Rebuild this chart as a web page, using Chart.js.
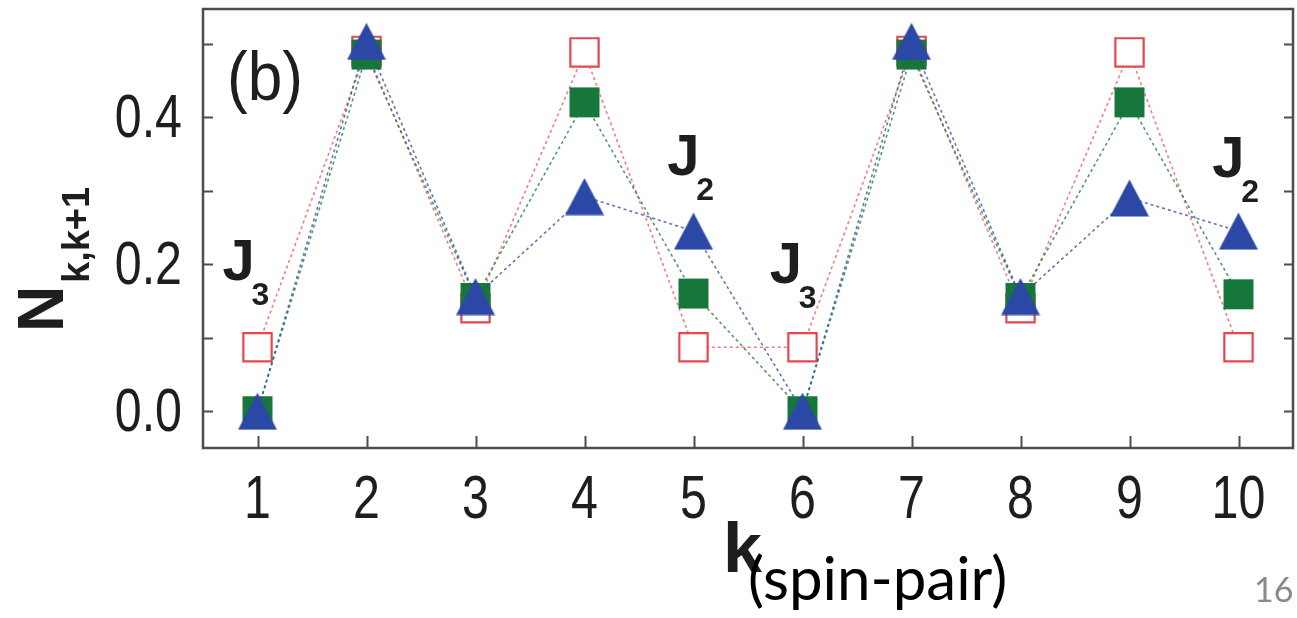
<!DOCTYPE html>
<html>
<head>
<meta charset="utf-8">
<script src="https://cdn.jsdelivr.net/npm/chart.js@4.4.1/dist/chart.umd.min.js"></script>
<style>
  html, body { margin: 0; padding: 0; background: #fff; }
  #wrap { width: 1297px; height: 618px; position: relative; }
</style>
</head>
<body>
<div id="wrap"><canvas id="chart"></canvas></div>
<script>
// spin-pair index k and the pair values N(k,k+1) for the three cases
const spinPairs = [1, 2, 3, 4, 5, 6, 7, 8, 9, 10];
const openSquares = [0.087, 0.49, 0.14, 0.488, 0.087, 0.087, 0.49, 0.14, 0.488, 0.087];
const filledSquares = [0.0, 0.485, 0.154, 0.42, 0.16, 0.0, 0.485, 0.154, 0.42, 0.159];
const triangles = [0.0, 0.503, 0.156, 0.292, 0.245, 0.0, 0.503, 0.156, 0.29, 0.245];

const yTicks = [0.0, 0.1, 0.2, 0.3, 0.4, 0.5];
const yLabels = [0.0, 0.2, 0.4];

const RED = '#e5474f';
const GREEN = '#17773a';
const BLUE = '#2b48a6';
const AXIS = '#4d4d4d';
const INK = '#1e1e1e';
const TICK_FONT = '62px "Liberation Sans", Arial, sans-serif';
const SQUEEZE = 0.78;

// Origin-style filled triangle, centred on its bounding box
function makeTriangle(w, h, color) {
  const c = document.createElement('canvas');
  c.width = w; c.height = h;
  const g = c.getContext('2d');
  g.fillStyle = color;
  g.beginPath();
  g.moveTo(w / 2, 0.5);
  g.lineTo(w - 0.5, h - 0.5);
  g.lineTo(0.5, h - 0.5);
  g.closePath();
  g.fill();
  return c;
}
const triMarker = makeTriangle(40, 38, BLUE);

const toPoints = vals => spinPairs.map((k, i) => ({ x: k, y: vals[i] }));

// narrow text: draw horizontally squeezed around (x, y)
function narrowText(ctx, text, x, y, align) {
  ctx.save();
  ctx.translate(x, y);
  ctx.scale(SQUEEZE, 1);
  ctx.textAlign = align;
  ctx.fillText(text, 0, 0);
  ctx.restore();
}

// frame with inward ticks on left, right and bottom, plus tick labels
const framePlugin = {
  id: 'frame',
  afterDatasetsDraw(chart) {
    const { ctx, chartArea: a, scales: { x, y } } = chart;
    ctx.save();
    ctx.strokeStyle = AXIS;
    ctx.lineWidth = 2.5;
    ctx.strokeRect(a.left, a.top, a.right - a.left, a.bottom - a.top);
    ctx.lineWidth = 2;
    ctx.beginPath();
    yTicks.forEach(v => {
      const py = Math.round(y.getPixelForValue(v)) + 0.5;
      ctx.moveTo(a.left, py); ctx.lineTo(a.left + 10, py);
      ctx.moveTo(a.right, py); ctx.lineTo(a.right - 9, py);
    });
    x.ticks.forEach(t => {
      const px = Math.round(x.getPixelForValue(t.value)) + 0.5;
      ctx.moveTo(px, a.bottom); ctx.lineTo(px, a.bottom - 12);
    });
    ctx.stroke();

    ctx.fillStyle = INK;
    ctx.font = TICK_FONT;
    ctx.textBaseline = 'alphabetic';
    y.ticks.forEach(t => {
      narrowText(ctx, t.value.toFixed(1), a.left - 21, y.getPixelForValue(t.value) + 20, 'right');
    });
    x.ticks.forEach(t => {
      narrowText(ctx, String(t.value), x.getPixelForValue(t.value), a.bottom + 70, 'center');
    });
    ctx.restore();
  }
};

// panel letter, J labels, axis titles and slide number
const textPlugin = {
  id: 'texts',
  afterDraw(chart) {
    const { ctx, chartArea: a, scales: { x, y } } = chart;
    ctx.save();
    ctx.fillStyle = INK;
    ctx.textBaseline = 'alphabetic';
    ctx.textAlign = 'left';

    ctx.font = '68px "Liberation Sans", Arial, sans-serif';
    ctx.fillText('(b)', a.left + 24, a.top + 91, 76);

    const jLabels = [
      { k: 1, dx: -0.32, y: 0.179, sub: '3' },
      { k: 6, dx: -0.30, y: 0.174, sub: '3' },
      { k: 5, dx: -0.24, y: 0.321, sub: '2' },
      { k: 10, dx: -0.24, y: 0.318, sub: '2' }
    ];
    jLabels.forEach(l => {
      const px = x.getPixelForValue(l.k + l.dx);
      const py = y.getPixelForValue(l.y);
      ctx.font = 'bold 58px "Liberation Sans", Arial, sans-serif';
      ctx.fillText('J', px, py);
      ctx.font = 'bold 32px "Liberation Sans", Arial, sans-serif';
      ctx.fillText(l.sub, px + 29, py + 25);
    });

    // y title: N with subscript k,k+1, rotated
    ctx.save();
    ctx.translate(63, 332);
    ctx.rotate(-Math.PI / 2);
    ctx.font = 'bold 64px "Liberation Sans", Arial, sans-serif';
    ctx.fillText('N', 0, 0);
    ctx.restore();
    ctx.save();
    ctx.translate(89, 283);
    ctx.rotate(-Math.PI / 2);
    ctx.font = 'bold 38px "Liberation Sans", Arial, sans-serif';
    ctx.fillText('k,k+1', 0, 0, 98);
    ctx.restore();

    // x title
    ctx.font = 'bold 70px "Liberation Sans", Arial, sans-serif';
    ctx.fillText('k', 723, 572);
    ctx.fillStyle = '#000';
    ctx.font = '60px Lato, "Open Sans", sans-serif';
    ctx.fillText('(spin-pair)', 748, 600, 266);

    ctx.fillStyle = '#8a8a8a';
    ctx.font = '34px Lato, "Open Sans", sans-serif';
    ctx.fillText('16', 1254, 602);
    ctx.restore();
  }
};

const lineStyle = color => ({
  borderColor: color,
  borderWidth: 1.6,
  borderDash: [3, 3],
  tension: 0,
  fill: false
});

// pin the plot box: fixed axis sizes, no automatic label padding
const noPad = s => { s.paddingTop = 0; s.paddingBottom = 0; s.paddingLeft = 0; s.paddingRight = 0; };

new Chart(document.getElementById('chart'), {
  type: 'line',
  data: {
    datasets: [
      Object.assign({
        label: 'triangles',
        data: toPoints(triangles),
        pointStyle: triMarker
      }, lineStyle('rgba(43,72,166,0.75)')),
      Object.assign({
        label: 'filled squares',
        data: toPoints(filledSquares),
        pointStyle: 'rect',
        pointRadius: 21.2,
        pointBackgroundColor: GREEN,
        pointBorderColor: GREEN,
        pointBorderWidth: 0
      }, lineStyle('rgba(23,119,58,0.75)')),
      Object.assign({
        label: 'open squares',
        data: toPoints(openSquares),
        pointStyle: 'rect',
        pointRadius: 20,
        pointBackgroundColor: '#fff',
        pointBorderColor: RED,
        pointBorderWidth: 2.2
      }, lineStyle('rgba(229,71,79,0.7)'))
    ]
  },
  options: {
    responsive: true,
    maintainAspectRatio: false,
    animation: false,
    layout: { autoPadding: false, padding: { left: 0, top: 9, right: 4, bottom: 0 } },
    plugins: { legend: { display: false }, tooltip: { enabled: false } },
    scales: {
      x: {
        type: 'linear',
        min: 0.5,
        max: 10.5,
        grid: { display: false, drawTicks: false },
        border: { display: false },
        afterBuildTicks: s => { s.ticks = spinPairs.map(v => ({ value: v })); },
        afterFit: s => { s.height = 170; noPad(s); },
        ticks: { display: false }
      },
      y: {
        min: -0.05,
        max: 0.547,
        grid: { display: false, drawTicks: false },
        border: { display: false },
        afterBuildTicks: s => { s.ticks = yLabels.map(v => ({ value: v })); },
        afterFit: s => { s.width = 203; noPad(s); },
        ticks: { display: false }
      }
    }
  },
  plugins: [framePlugin, textPlugin]
});
</script>
</body>
</html>
